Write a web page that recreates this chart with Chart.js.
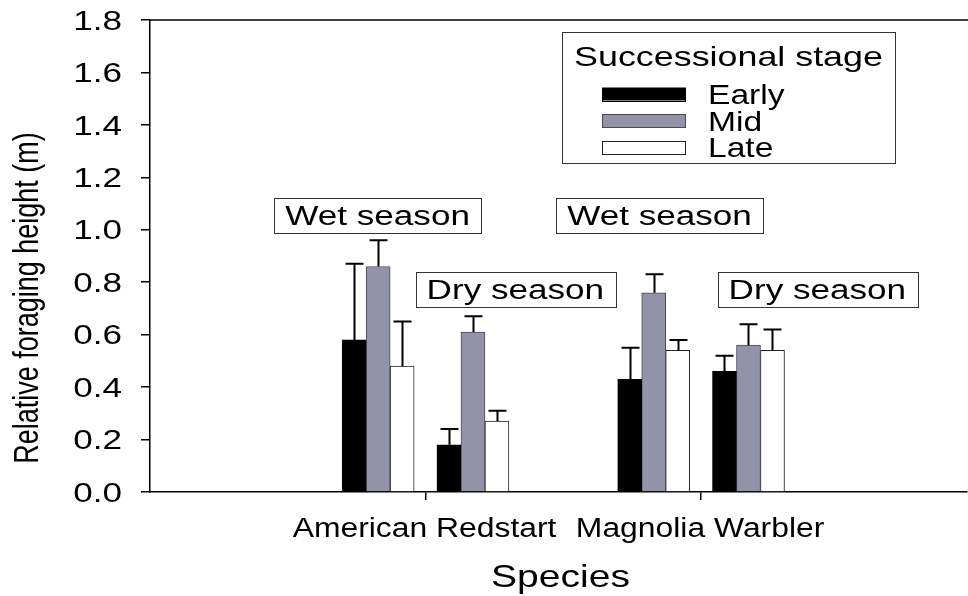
<!DOCTYPE html>
<html>
<head>
<meta charset="utf-8">
<title>Relative foraging height by successional stage</title>
<script src="https://cdn.jsdelivr.net/npm/chart.js@4.4.1/dist/chart.umd.min.js"></script>
<style>
  html, body { margin: 0; padding: 0; background: #ffffff; }
  canvas { display: block; }
</style>
</head>
<body>
<canvas id="chart" width="968" height="596"></canvas>
<script>
// ---- data -------------------------------------------------------------
const species = ['American Redstart', 'Magnolia Warbler'];
const seasons = ['Wet season', 'Dry season'];
const stages  = ['Early', 'Mid', 'Late'];

// Mean relative foraging height (m); order: AR wet, AR dry, MW wet, MW dry
const earlyMean = [0.58, 0.18, 0.43, 0.46];
const midMean   = [0.86, 0.61, 0.76, 0.56];
const lateMean  = [0.48, 0.27, 0.54, 0.54];

// Standard errors (upper whisker only), same order
const earlySE = [0.29, 0.06, 0.12, 0.06];
const midSE   = [0.10, 0.06, 0.07, 0.08];
const lateSE  = [0.17, 0.04, 0.04, 0.08];

const yTickValues = [0, 0.2, 0.4, 0.6, 0.8, 1.0, 1.2, 1.4, 1.6, 1.8];
const yTickLabels = ['0.0', '0.2', '0.4', '0.6', '0.8', '1.0', '1.2', '1.4', '1.6', '1.8'];

const yTitle = 'Relative foraging height (m)';
const xTitle = 'Species';
const legendTitle = 'Successional stage';

// ---- layout & style ---------------------------------------------------
const FONT = '"Liberation Sans", Arial, Helvetica, sans-serif';
const SEASON_SHIFT = 0.172;          // wet / dry cluster offset from species tick
const X_MAX = 2.965;
// season label boxes, anchored in data units (centre of box)
const notePlacement = [
  { x: 0.826, y: 1.055 },
  { x: 1.326, y: 0.772 },
  { x: 1.849, y: 1.055 },
  { x: 2.422, y: 0.774 }
];
const stageStyle = [
  { fill: '#000000', edge: '#000000' },
  { fill: '#9293a9', edge: '#4a4a55' },
  { fill: '#ffffff', edge: '#222222' }
];

const stageMeans = [earlyMean, midMean, lateMean];
const stageSE = [earlySE, midSE, lateSE];

// cluster k: species = floor(k/2), season = k % 2
function clusterX(k) {
  const sp = Math.floor(k / 2);
  const se = k % 2;
  return sp + 1 + (se === 0 ? -SEASON_SHIFT : SEASON_SHIFT);
}

const datasets = stages.map((name, s) => ({
  label: name,
  data: stageMeans[s].map((v, k) => ({ x: clusterX(k), y: v })),
  backgroundColor: stageStyle[s].fill,
  borderColor: stageStyle[s].edge,
  borderWidth: 1,
  borderSkipped: 'start',
  barThickness: 24
}));

// draw text with the slightly widened lettering used throughout the figure
function wideText(ctx, text, x, y, size, sx, align) {
  ctx.save();
  ctx.font = size + 'px ' + FONT;
  ctx.fillStyle = '#000000';
  ctx.textAlign = align || 'left';
  ctx.textBaseline = 'alphabetic';
  ctx.translate(x, y);
  ctx.scale(sx, 1);
  ctx.fillText(text, 0, 0);
  ctx.restore();
}
function wideWidth(ctx, text, size, sx) {
  ctx.save();
  ctx.font = size + 'px ' + FONT;
  const w = ctx.measureText(text).width * sx;
  ctx.restore();
  return w;
}

// upward standard-error whiskers
const whiskers = {
  id: 'whiskers',
  afterDatasetsDraw(chart) {
    const ctx = chart.ctx;
    const yScale = chart.scales.y;
    ctx.save();
    ctx.strokeStyle = '#000000';
    ctx.lineWidth = 2;
    stages.forEach((_, s) => {
      const meta = chart.getDatasetMeta(s);
      meta.data.forEach((bar, k) => {
        const top = yScale.getPixelForValue(stageMeans[s][k] + stageSE[s][k]);
        const x = Math.round(bar.x) + 0.5;
        ctx.beginPath();
        ctx.moveTo(x, bar.y);
        ctx.lineTo(x, top);
        ctx.moveTo(x - 9, top);
        ctx.lineTo(x + 9, top);
        ctx.stroke();
      });
    });
    ctx.restore();
  }
};

// frame top, tick labels, titles, season boxes and legend
const figureText = {
  id: 'figureText',
  afterDraw(chart) {
    const ctx = chart.ctx;
    const ca = chart.chartArea;
    const xs = chart.scales.x;
    const ys = chart.scales.y;

    // top frame line
    ctx.save();
    ctx.strokeStyle = '#000000';
    ctx.lineWidth = 1.5;
    ctx.beginPath();
    ctx.moveTo(ca.left, ca.top);
    ctx.lineTo(ca.right + 2, ca.top);
    ctx.stroke();
    ctx.restore();

    // y tick labels
    yTickValues.forEach((v, i) => {
      const py = ys.getPixelForValue(v);
      wideText(ctx, yTickLabels[i], ca.left - 28, py + 9.7, 27, 1.3, 'right');
    });

    // x tick labels (species)
    species.forEach((name, i) => {
      const px = xs.getPixelForValue(i + 1);
      wideText(ctx, name, px - 1, ca.bottom + 45, 27, 1.18, 'center');
    });

    // axis titles
    wideText(ctx, xTitle, (ca.left + ca.right) / 2 + 2, ca.bottom + 95, 32, 1.22, 'center');
    ctx.save();
    ctx.font = '27px ' + FONT;
    ctx.fillStyle = '#000000';
    ctx.textAlign = 'center';
    ctx.textBaseline = 'alphabetic';
    ctx.translate(38, 298);
    ctx.rotate(-Math.PI / 2);
    ctx.scale(1, 1.28);
    ctx.fillText(yTitle, 0, 0);
    ctx.restore();

    // season labels
    notePlacement.forEach((p, k) => {
      const text = seasons[k % 2];
      const cx = xs.getPixelForValue(p.x);
      const cy = ys.getPixelForValue(p.y);
      const tw = wideWidth(ctx, text, 27, 1.3);
      const w = tw + 22;
      const h = 35;
      ctx.save();
      ctx.fillStyle = '#ffffff';
      ctx.strokeStyle = '#333333';
      ctx.lineWidth = 1;
      ctx.fillRect(cx - w / 2, cy - h / 2, w, h);
      ctx.strokeRect(Math.round(cx - w / 2) + 0.5, Math.round(cy - h / 2) + 0.5, Math.round(w), Math.round(h));
      ctx.restore();
      wideText(ctx, text, cx, cy + 9.7, 27, 1.3, 'center');
    });

    // legend
    const lx = 562, ly = 32, lw = 333, lh = 131;
    ctx.save();
    ctx.fillStyle = '#ffffff';
    ctx.strokeStyle = '#333333';
    ctx.lineWidth = 1;
    ctx.fillRect(lx, ly, lw, lh);
    ctx.strokeRect(lx + 0.5, ly + 0.5, lw, lh);
    ctx.restore();
    wideText(ctx, legendTitle, lx + lw / 2, ly + 34, 28, 1.28, 'center');
    stages.forEach((name, s) => {
      const cy = ly + 62 + s * 26.7;
      ctx.save();
      ctx.fillStyle = stageStyle[s].fill;
      ctx.strokeStyle = stageStyle[s].edge;
      ctx.lineWidth = 1;
      ctx.fillRect(602, cy - 6.5, 84, 13);
      ctx.strokeRect(602.5, Math.round(cy - 6.5) + 0.5, 83, 13);
      ctx.restore();
      wideText(ctx, name, 708, cy + 10, 28, 1.2, 'left');
    });
  }
};

new Chart(document.getElementById('chart'), {
  type: 'bar',
  data: { datasets },
  options: {
    responsive: false,
    animation: false,
    devicePixelRatio: 1,
    layout: { padding: { left: 0, top: 20, right: 1, bottom: 0 } },
    plugins: {
      legend: { display: false },
      tooltip: { enabled: false },
      title: { display: false }
    },
    scales: {
      x: {
        type: 'linear',
        min: 0,
        max: X_MAX,
        offset: false,
        afterBuildTicks(scale) {
          scale.ticks = species.map((_, i) => ({ value: i + 1 }));
        },
        afterFit(scale) { scale.height = 104; },
        ticks: { display: false },
        grid: {
          display: true,
          offset: false,
          drawOnChartArea: false,
          drawTicks: true,
          tickLength: 8,
          color: '#000000',
          lineWidth: 1.5
        },
        border: { display: true, color: '#000000', width: 1.5 }
      },
      y: {
        type: 'linear',
        min: 0,
        max: 1.8,
        afterBuildTicks(scale) {
          scale.ticks = yTickValues.map(v => ({ value: v }));
        },
        afterFit(scale) { scale.width = 150; },
        ticks: { display: false },
        grid: {
          display: true,
          drawOnChartArea: false,
          drawTicks: true,
          tickLength: 9,
          color: '#000000',
          lineWidth: 1.5
        },
        border: { display: true, color: '#000000', width: 1.5 }
      }
    }
  },
  plugins: [whiskers, figureText]
});
</script>
</body>
</html>
